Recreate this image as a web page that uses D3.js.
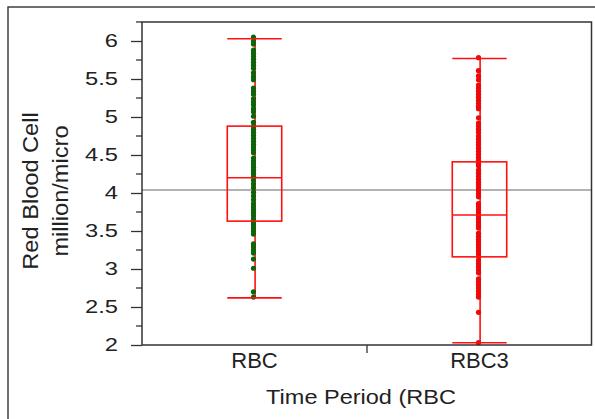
<!DOCTYPE html>
<html lang="en">
<head>
    <meta charset="UTF-8">
    <title>Red Blood Cell by Time Period</title>
    <script src="https://d3js.org/d3.v7.min.js"></script>
    <style>
        body { margin: 0; background: #fff; }
        text { font-family: 'Liberation Sans', Arial, sans-serif; fill: #222; }
    </style>
</head>
<body>
    <svg id="chart" width="595" height="419"></svg>

    <script>
        // categories and values
        const categories = ["RBC", "RBC3"];

        const rbcValues = [6.05, 6.00, 5.96, 5.88, 5.84, 5.80, 5.76, 5.72, 5.68, 5.64, 5.58, 5.53, 5.49,
            5.38, 5.34, 5.30, 5.24, 5.20, 5.16, 5.11, 5.07, 5.01, 4.93, 4.88, 4.84, 4.80, 4.76, 4.72,
            4.68, 4.64, 4.61, 4.57, 4.53, 4.46, 4.42, 4.38, 4.34, 4.30, 4.26, 4.22, 4.17, 4.12, 4.07,
            4.01, 3.96, 3.91, 3.86, 3.82, 3.78, 3.74, 3.70, 3.66, 3.62, 3.58, 3.54, 3.50, 3.46, 3.33,
            3.29, 3.25, 3.21, 3.13, 3.01, 2.70, 2.63];

        const rbc3Values = [5.78, 5.61, 5.54, 5.49, 5.42, 5.38, 5.34, 5.30, 5.26, 5.22, 5.18, 5.14,
            5.11, 4.99, 4.92, 4.88, 4.84, 4.80, 4.75, 4.71, 4.67, 4.63, 4.59, 4.55, 4.51, 4.47, 4.43,
            4.39, 4.36, 4.30, 4.26, 4.22, 4.18, 4.14, 4.11, 4.07, 4.03, 3.99, 3.95, 3.86, 3.82, 3.78,
            3.74, 3.70, 3.66, 3.62, 3.58, 3.54, 3.47, 3.43, 3.39, 3.36, 3.32, 3.28, 3.24, 3.20, 3.16,
            3.11, 3.07, 3.03, 2.99, 2.95, 2.87, 2.83, 2.79, 2.75, 2.71, 2.67, 2.63, 2.43, 2.03];

        // box plot summaries (low whisker, Q1, median, Q3, high whisker)
        const whiskerLow = [2.62, 2.03];
        const q1 = [3.63, 3.16];
        const median = [4.20, 3.71];
        const q3 = [4.88, 4.41];
        const whiskerHigh = [6.03, 5.77];

        const referenceValue = 4.04;
        const yTicks = [2, 2.5, 3, 3.5, 4, 4.5, 5, 5.5, 6];
        const yMinorTicks = [2.25, 2.75, 3.25, 3.75, 4.25, 4.75, 5.25, 5.75, 6.25];

        const pointColors = ["#0a640a", "#ee0808"];
        const boxColor = "#ff1010";

        const margin = { top: 22, right: 3, bottom: 74, left: 142 };
        const width = 595 - margin.left - margin.right;
        const height = 419 - margin.top - margin.bottom;

        const root = d3.select("#chart");

        // outer frame, runs off the right and bottom of the page
        root.append("rect")
            .attr("x", 8).attr("y", 7)
            .attr("width", 620).attr("height", 440)
            .attr("fill", "none")
            .attr("stroke", "#333")
            .attr("stroke-width", 1.4);

        const svg = root.append("g")
            .attr("transform", `translate(${margin.left},${margin.top})`);

        const x = d3.scaleBand().domain(categories).range([0, width]).padding(0);
        const y = d3.scaleLinear().domain([2, 6.25]).range([height, 0]);

        // y axis, major and minor ticks
        const yAxis = svg.append("g")
            .call(d3.axisLeft(y).tickValues(yTicks).tickFormat(d => String(d)).tickSize(11).tickPadding(13));
        yAxis.select(".domain").remove();
        yAxis.selectAll(".tick line").attr("stroke", "#333").attr("stroke-width", 1.3);
        yAxis.selectAll(".tick text")
            .attr("x", 0)
            .attr("transform", "translate(-24,0) scale(1.28,1)")
            .style("font-size", "18.5px")
            .style("fill", "#222");

        svg.append("g")
            .selectAll("line")
            .data(yMinorTicks)
            .join("line")
            .attr("x1", -6).attr("x2", 0)
            .attr("y1", d => y(d)).attr("y2", d => y(d))
            .attr("stroke", "#333")
            .attr("stroke-width", 1.3);

        // x axis labels
        const xAxis = svg.append("g")
            .attr("transform", `translate(0,${height})`)
            .call(d3.axisBottom(x).tickSize(0).tickPadding(7));
        xAxis.select(".domain").remove();
        xAxis.selectAll(".tick text")
            .style("font-size", "22px")
            .style("fill", "#222");

        // separator tick between the two groups
        svg.append("line")
            .attr("x1", x("RBC3")).attr("x2", x("RBC3"))
            .attr("y1", height).attr("y2", height + 8)
            .attr("stroke", "#333")
            .attr("stroke-width", 1.3);

        // reference line
        svg.append("line")
            .attr("x1", 0).attr("x2", width)
            .attr("y1", y(referenceValue)).attr("y2", y(referenceValue))
            .attr("stroke", "#999")
            .attr("stroke-width", 1.5);

        const boxWidth = x.bandwidth() * 0.242;

        // whisker stems sit under the points
        categories.forEach((c, i) => {
            const cx = x(c) + x.bandwidth() / 2;
            svg.append("line")
                .attr("x1", cx + 0.6).attr("x2", cx + 0.6)
                .attr("y1", y(whiskerLow[i])).attr("y2", y(whiskerHigh[i]))
                .attr("stroke", boxColor)
                .attr("stroke-width", 1.6);
        });

        // points
        const series = [rbcValues, rbc3Values];
        series.forEach((values, i) => {
            const cx = x(categories[i]) + x.bandwidth() / 2 - 1;
            svg.append("g")
                .selectAll("circle")
                .data(values)
                .join("circle")
                .attr("cx", cx)
                .attr("cy", d => y(d))
                .attr("r", 2.6)
                .attr("fill", pointColors[i]);
        });

        // boxes, medians and caps
        categories.forEach((c, i) => {
            const cx = x(c) + x.bandwidth() / 2;
            const g = svg.append("g")
                .attr("stroke", boxColor)
                .attr("stroke-width", 1.6)
                .attr("fill", "none");

            g.append("rect")
                .attr("x", cx - boxWidth / 2)
                .attr("y", y(q3[i]))
                .attr("width", boxWidth)
                .attr("height", y(q1[i]) - y(q3[i]));

            [median[i], whiskerLow[i], whiskerHigh[i]].forEach(v => {
                g.append("line")
                    .attr("x1", cx - boxWidth / 2).attr("x2", cx + boxWidth / 2)
                    .attr("y1", y(v)).attr("y2", y(v));
            });
        });

        // plot frame
        svg.append("rect")
            .attr("width", width - 0.5)
            .attr("height", height)
            .attr("fill", "none")
            .attr("stroke", "#333")
            .attr("stroke-width", 1.5);

        // axis titles
        root.append("text")
            .attr("transform", "translate(361,404) scale(1.12,1)")
            .attr("text-anchor", "middle")
            .style("font-size", "21px")
            .text("Time Period (RBC");

        const yTitle = root.append("g")
            .attr("transform", "translate(0,191) rotate(-90)");
        yTitle.append("text")
            .attr("transform", "translate(0,38) scale(1.05,1)")
            .attr("text-anchor", "middle")
            .style("font-size", "22.5px")
            .text("Red Blood Cell");
        yTitle.append("text")
            .attr("transform", "translate(0,68) scale(1.05,1)")
            .attr("text-anchor", "middle")
            .style("font-size", "22.5px")
            .text("million/micro");
    </script>
</body>
</html>
